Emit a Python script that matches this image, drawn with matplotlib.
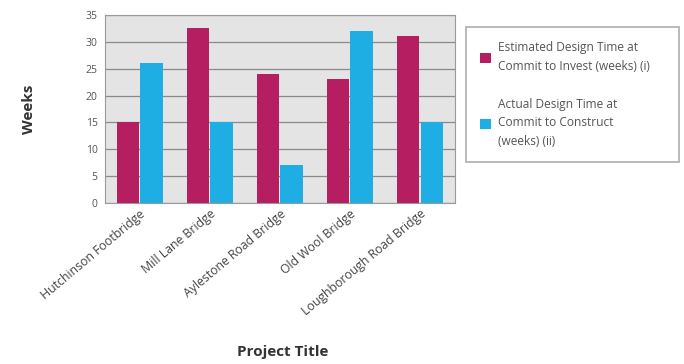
"""Estimated vs actual design time per bridge project."""

import numpy as np
from matplotlib import pyplot as plt

plt.rcParams['font.family'] = ['Open Sans', 'DejaVu Sans']

projects = ['Hutchinson Footbridge', 'Mill Lane Bridge', 'Aylestone Road Bridge',
            'Old Wool Bridge', 'Loughborough Road Bridge']
estimated = [15, 32.5, 24, 23, 31]
actual = [26, 15, 7, 32, 15]
series_names = ['Estimated Design Time at\nCommit to Invest (weeks) (i)',
                'Actual Design Time at\nCommit to Construct\n(weeks) (ii)']
colors = ['#B51F62', '#1FAEE3']

fig = plt.figure(figsize=(6.84, 3.64), dpi=100)
ax = fig.add_axes([0.153, 0.442, 0.512, 0.517])

x = np.arange(len(projects))
w = 0.32
b1 = ax.bar(x - w / 2 - 0.01, estimated, w, color=colors[0], zorder=3)
b2 = ax.bar(x + w / 2 + 0.01, actual, w, color=colors[1], zorder=3)

# Plot configuration
ax.set_facecolor('#E4E4E4')
ax.set_ylim(0, 35)
ax.set_xlim(-0.5, len(projects) - 0.5)
ax.set_yticks(range(0, 36, 5))
ax.yaxis.grid(True, color='#8A8A8A', linewidth=0.9, zorder=0)
ax.tick_params(axis='y', length=0, labelsize=7.5, colors='#555555', pad=5)
ax.tick_params(axis='x', length=0, pad=3)
ax.set_xticks(x)
ax.set_xticklabels(projects, rotation=40, ha='right', rotation_mode='anchor',
                   fontsize=8.8, color='#444444')
for spine in ax.spines.values():
    spine.set_color('#9A9A9A')

ax.set_ylabel('Weeks', fontsize=11, fontweight='bold', color='#333333', labelpad=36)
fig.text(0.414, 0.033, 'Project Title', fontsize=11, fontweight='bold',
         color='#333333', ha='center', va='center')

leg = fig.legend([b1, b2], series_names, loc='upper left',
                 bbox_to_anchor=(466 / 684, 0, 213 / 684, 1 - 27 / 364),
                 mode='expand', borderaxespad=0, fontsize=8.6, frameon=True,
                 fancybox=False, edgecolor='#9A9A9A', handlelength=0.9,
                 handleheight=0.9, labelspacing=2.1, borderpad=1.2,
                 handletextpad=0.6)
for t in leg.get_texts():
    t.set_color('#555555')
    t.set_linespacing(1.55)
leg.get_frame().set_linewidth(1.2)

fig.savefig('out.png', dpi=100)
